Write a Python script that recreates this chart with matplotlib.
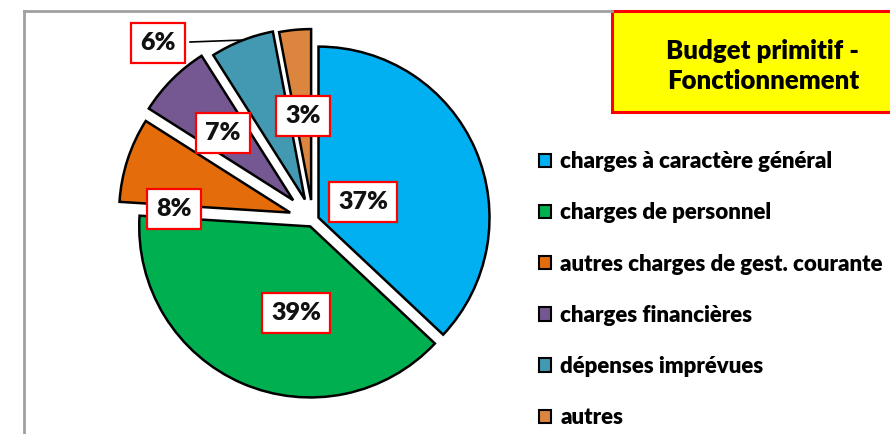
import matplotlib.pyplot as plt
from matplotlib.patches import Rectangle
from matplotlib.lines import Line2D

categories = [
    "charges à caractère général",
    "charges de personnel",
    "autres charges de gest. courante",
    "charges financières",
    "dépenses imprévues",
    "autres",
]
shares = [37, 39, 8, 7, 6, 3]
pct_labels = ["37%", "39%", "8%", "7%", "6%", "3%"]
colors = ["#00B0F0", "#00B050", "#E46C0A", "#755891", "#4399B2", "#DB853F"]
title_text = "Budget primitif -\nFonctionnement"

W, H = 890, 434
fig = plt.figure(figsize=(W / 100, H / 100), dpi=100)
ax = fig.add_axes([0, 0, 1, 1])

# pie drawn in pixel units (y up)
explode = [6, 7, 24, 28, 22, 20]
wedges, _ = ax.pie(
    shares,
    colors=colors,
    explode=explode,
    startangle=90,
    counterclock=False,
    center=(313, H - 220),
    radius=171,
    wedgeprops=dict(edgecolor="black", linewidth=1.8),
)
ax.set_xlim(0, W)
ax.set_ylim(0, H)
ax.set_aspect("auto")
ax.axis("off")

# percentage boxes (image pixel positions)
label_pos = [(363, 202), (296, 313), (174, 209), (223, 133), (158, 43), (303, 116)]
for txt, (px, py) in zip(pct_labels, label_pos):
    ax.text(px, H - py, txt, ha="center", va="center", fontsize=18,
            fontweight="heavy", family="Lato", color="#111111",
            bbox=dict(boxstyle="square,pad=0.36", facecolor="white",
                      edgecolor="#FF0000", linewidth=1.6), zorder=5)

# leader line for the 6% label
ax.plot([190, 244], [H - 42, H - 40], color="black", linewidth=1.2, zorder=4)

# frame lines
ax.add_line(Line2D([24, 612], [H - 11, H - 11], color="#A0A0A0", linewidth=2))
ax.add_line(Line2D([24, 24], [H - 11, 0], color="#A0A0A0", linewidth=2))

# title box
ax.add_patch(Rectangle((612, H - 112), 300, 101, facecolor="#FFFF00",
                       edgecolor="#FF0000", linewidth=2.2, clip_on=False))
ax.text(763, H - 66, title_text, ha="center", va="center", fontsize=18.5,
        fontweight="heavy", family="Lato", linespacing=1.3)

leg = ax.legend(
    wedges, categories,
    loc="upper left",
    bbox_to_anchor=(528 / W, 1 - 140 / H),
    frameon=False,
    prop=dict(family="Lato", weight="heavy", size=16),
    handlelength=0.55, handleheight=0.55, handletextpad=0.4,
    labelspacing=1.36, borderpad=0,
)
for h in leg.legend_handles:
    h.set_linewidth(1.5)
    h.set_edgecolor("black")

fig.savefig("out.png", dpi=100)
